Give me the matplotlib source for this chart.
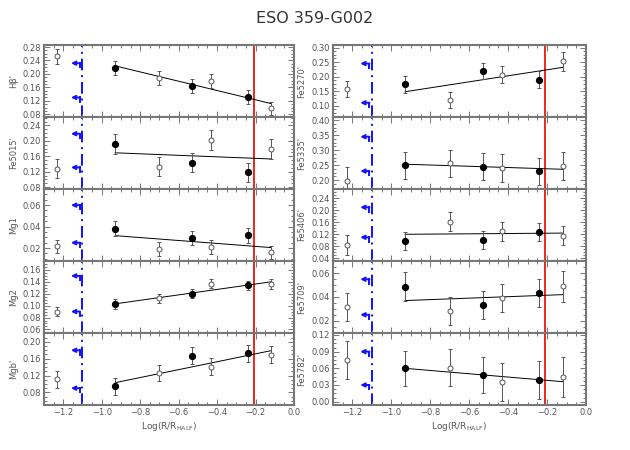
import numpy as np
import matplotlib
matplotlib.use('Agg')
from matplotlib import pyplot as plt
from matplotlib.ticker import AutoMinorLocator, MultipleLocator, FormatStrFormatter

#======================================================
#! Data
logr = [-1.23, -0.93, -0.70, -0.53, -0.43, -0.24, -0.12]
filled = [False, True, False, True, False, True, False]
fit_x = [-0.93, -0.12]
r_cut_blue = -1.10
r_cut_red = -0.21

names_left = ["H\u03b2'", "Fe5015'", "Mg1", "Mg2", "Mgb'"]
names_right = ["Fe5270'", "Fe5335'", "Fe5406'", "Fe5709'", "Fe5782'"]

hb = [0.253, 0.217, 0.189, 0.164, 0.179, 0.131, 0.098]
hb_err = [0.022, 0.021, 0.021, 0.021, 0.021, 0.021, 0.02]
hb_fit = [0.224, 0.112]

fe5015 = [0.128, 0.192, 0.133, 0.143, 0.202, 0.118, 0.179]
fe5015_err = [0.025, 0.025, 0.025, 0.025, 0.025, 0.025, 0.025]
fe5015_fit = [0.169, 0.153]

mg1 = [0.0215, 0.0378, 0.019, 0.029, 0.021, 0.032, 0.016]
mg1_err = [0.0065, 0.007, 0.0065, 0.0065, 0.0065, 0.007, 0.006]
mg1_fit = [0.0316, 0.0205]

mg2 = [0.090, 0.103, 0.112, 0.120, 0.137, 0.134, 0.136]
mg2_err = [0.008, 0.008, 0.008, 0.008, 0.008, 0.008, 0.008]
mg2_fit = [0.103, 0.140]

mgb = [0.111, 0.094, 0.126, 0.167, 0.141, 0.173, 0.169]
mgb_err = [0.02, 0.02, 0.02, 0.02, 0.02, 0.02, 0.02]
mgb_fit = [0.103, 0.179]

fe5270 = [0.158, 0.173, 0.120, 0.220, 0.207, 0.190, 0.253]
fe5270_err = [0.028, 0.028, 0.028, 0.028, 0.028, 0.028, 0.033]
fe5270_fit = [0.148, 0.232]

fe5335 = [0.198, 0.250, 0.256, 0.245, 0.240, 0.229, 0.247]
fe5335_err = [0.045, 0.045, 0.046, 0.045, 0.046, 0.045, 0.047]
fe5335_fit = [0.253, 0.236]

fe5406 = [0.083, 0.098, 0.162, 0.102, 0.130, 0.127, 0.115]
fe5406_err = [0.033, 0.03, 0.032, 0.03, 0.032, 0.03, 0.032]
fe5406_fit = [0.120, 0.124]

fe5709 = [0.0317, 0.0487, 0.028, 0.0333, 0.039, 0.0434, 0.049]
fe5709_err = [0.012, 0.012, 0.012, 0.012, 0.012, 0.012, 0.013]
fe5709_fit = [0.037, 0.042]

fe5782 = [0.075, 0.060, 0.061, 0.048, 0.036, 0.039, 0.044]
fe5782_err = [0.035, 0.032, 0.033, 0.033, 0.034, 0.035, 0.036]
fe5782_fit = [0.060, 0.036]

vals_left = [hb, fe5015, mg1, mg2, mgb]
errs_left = [hb_err, fe5015_err, mg1_err, mg2_err, mgb_err]
fits_left = [hb_fit, fe5015_fit, mg1_fit, mg2_fit, mgb_fit]
vals_right = [fe5270, fe5335, fe5406, fe5709, fe5782]
errs_right = [fe5270_err, fe5335_err, fe5406_err, fe5709_err, fe5782_err]
fits_right = [fe5270_fit, fe5335_fit, fe5406_fit, fe5709_fit, fe5782_fit]

# arrow levels (two per panel)
arrows_left = [[0.232, 0.130], [0.2185, 0.131], [0.060, 0.025], [0.150, 0.090], [0.180, 0.090]]
arrows_right = [[0.245, 0.110], [0.345, 0.230], [0.210, 0.110], [0.055, 0.025], [0.090, 0.030]]

# y limits and ticks
ylim_left = [(0.072, 0.286), (0.075, 0.262), (0.008, 0.075), (0.054, 0.175), (0.050, 0.221)]
ystep_left = [0.04, 0.04, 0.02, 0.02, 0.04]
ylim_right = [(0.061, 0.309), (0.170, 0.411), (0.031, 0.271), (0.0096, 0.0704), (-0.006, 0.1236)]
ystep_right = [0.05, 0.05, 0.04, 0.02, 0.03]

#======================================================
#! Plot
grey = '#555555'
blue = '#1010ff'
plt.rcParams['font.family'] = ['DejaVu Sans']
plt.rcParams['font.size'] = 6

fig = plt.figure(figsize=(6.3, 4.5), dpi=100)
fig.text(0.5, 0.958, 'ESO 359-G002', ha='center', va='center', fontsize=11.5,
         color='#333333')

lefts = [44 / 630, 333 / 630]
widths = [250 / 630, 253 / 630]
ph = 72 / 450
bot = 45 / 450

xr = np.array(logr)
fm = np.array(filled)

for col in range(2):
    names = [names_left, names_right][col]
    vals = [vals_left, vals_right][col]
    errs = [errs_left, errs_right][col]
    fits = [fits_left, fits_right][col]
    arrs = [arrows_left, arrows_right][col]
    ylims = [ylim_left, ylim_right][col]
    ysteps = [ystep_left, ystep_right][col]
    for k in range(5):
        ax = fig.add_axes([lefts[col], bot + (4 - k) * ph, widths[col], ph])
        v = np.array(vals[k])
        e = np.array(errs[k])
        ax.errorbar(xr[~fm], v[~fm], yerr=e[~fm], fmt='o', ms=3.6, mfc='white', mec=grey,
                    mew=0.7, ecolor=grey, elinewidth=0.7, capsize=1.5, capthick=0.7, zorder=3)
        ax.errorbar(xr[fm], v[fm], yerr=e[fm], fmt='o', ms=4.2, mfc='black', mec='black',
                    ecolor=grey, elinewidth=0.7, capsize=1.5, capthick=0.7, zorder=4)
        ax.plot(fit_x, fits[k], color='black', lw=0.7, zorder=2)
        ax.axvline(r_cut_red, color='#e8291c', lw=1.4, zorder=1)
        ax.axvline(r_cut_blue, color=blue, lw=1.4, ls=(0, (6, 2.5, 1, 2.5)), zorder=1)
        y0, y1 = ylims[k]
        for ya in arrs[k]:
            ax.annotate('', xy=(-1.16, ya), xytext=(-1.113, ya),
                        arrowprops=dict(arrowstyle='->', color=blue, lw=1.4,
                                        mutation_scale=6, shrinkA=0, shrinkB=0))
            ax.plot([-1.113, -1.113], [ya, ya - 0.06 * (y1 - y0)], color=blue, lw=1.4)
        ax.set_xlim(-1.3, 0.0)
        ax.set_ylim(y0, y1)
        ax.xaxis.set_major_locator(MultipleLocator(0.2))
        ax.xaxis.set_minor_locator(MultipleLocator(0.05))
        ax.yaxis.set_major_locator(MultipleLocator(ysteps[k]))
        ax.yaxis.set_minor_locator(AutoMinorLocator(4))
        ax.tick_params(which='both', direction='in', top=True, right=True, colors='#777777',
                       labelcolor=grey, labelsize=6, width=0.7, pad=2)
        ax.tick_params(which='major', length=4)
        ax.tick_params(which='minor', length=2)
        ax.yaxis.set_major_formatter(FormatStrFormatter('%.2f'))
        for s in ax.spines.values():
            s.set_color('#777777')
            s.set_linewidth(1.5)
        ax.set_ylabel(names[k], color=grey, fontsize=6)
        ax.yaxis.set_label_coords(-0.105, 0.5)
        if k < 4:
            ax.set_xticklabels([])
        else:
            ax.set_xlabel('Log(R/R$_{\\rm HALF}$)', color=grey, fontsize=6.5, labelpad=2)

plt.savefig('out.png', dpi=100)
